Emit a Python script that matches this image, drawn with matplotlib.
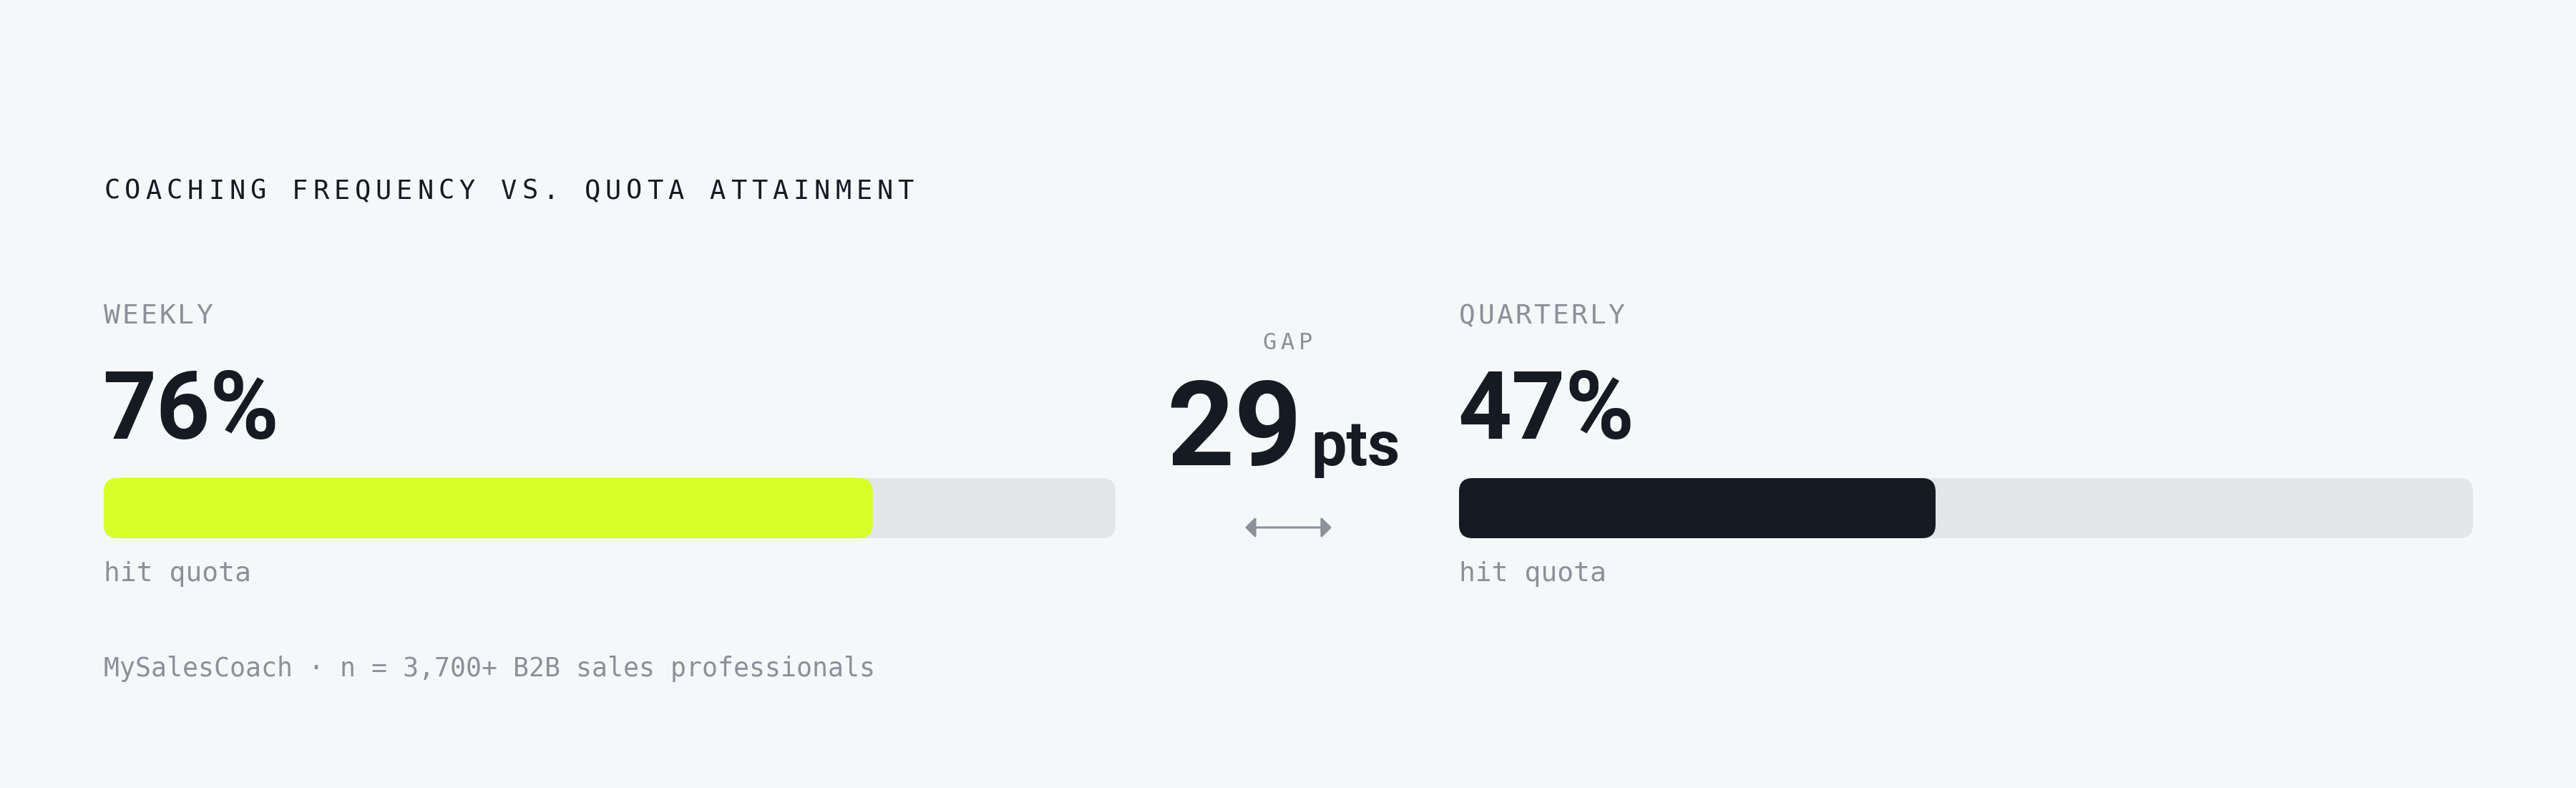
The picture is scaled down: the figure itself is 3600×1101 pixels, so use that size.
import matplotlib
matplotlib.use("Agg")
import matplotlib.pyplot as plt
from matplotlib.patches import FancyBboxPatch, FancyArrowPatch

# ---- data ----
title = "COACHING FREQUENCY VS. QUOTA ATTAINMENT"
groups = ["WEEKLY", "QUARTERLY"]
values = [76, 47]
value_labels = ["76%", "47%"]
sublabel = "hit quota"
gap_label = "GAP"
gap_value = values[0] - values[1]
gap_unit = "pts"
footer = "MySalesCoach · n = 3,700+ B2B sales professionals"

# ---- style ----
BG = "#f6f7f9"
DARK = "#151a23"
GRAY = "#8b9099"
TRACK = "#e4e5e8"
FILLS = ["#d9ff29", "#151a23"]
MONO = "DejaVu Sans Mono"
BOLD = "Roboto"

W, H = 3600, 1101
DPI = 72
fig = plt.figure(figsize=(W / DPI, H / DPI), dpi=DPI, facecolor=BG)
ax = fig.add_axes([0, 0, 1, 1])
ax.set_xlim(0, W)
ax.set_ylim(H, 0)
ax.axis("off")
ax.set_facecolor(BG)


def tracked(x0, y, s, size, step, color, **kw):
    adv = 0.602 * size
    for i, ch in enumerate(s):
        ax.text(x0 + adv / 2 + i * step, y, ch, fontsize=size, family=MONO,
                color=color, ha="center", va="baseline", **kw)


# title
tracked(145, 278, title, 37, 29.2, DARK)

# columns
col_x = [145, 2039]
track_w = [1414, 1417]
bar_top, bar_h = 668, 84
radius = 19
label_steps = [25.8, 26.1]

for i in range(2):
    x0 = col_x[i]
    tracked(x0, 452, groups[i], 38, label_steps[i], GRAY)
    ax.text(x0 - 2, 613, value_labels[i], fontsize=131, family=BOLD,
            fontweight="bold", color=DARK, ha="left", va="baseline")
    ax.text(x0, 812, sublabel, fontsize=38, family=MONO, color=GRAY,
            ha="left", va="baseline")

    bax = fig.add_axes([x0 / W, 1 - (bar_top + bar_h) / H, track_w[i] / W, bar_h / H])
    bax.set_xlim(0, 100)
    bax.set_ylim(0, 1)
    bax.axis("off")
    xpp = 100 / track_w[i]
    ypp = 1 / bar_h
    asp = ypp / xpp
    rs = radius * xpp
    bax.add_patch(FancyBboxPatch((0, 0), 100, 1,
                                 boxstyle=f"round,pad=0,rounding_size={rs}",
                                 mutation_aspect=asp, fc=TRACK, ec="none"))
    bax.add_patch(FancyBboxPatch((0, 0), values[i], 1,
                                 boxstyle=f"round,pad=0,rounding_size={rs}",
                                 mutation_aspect=asp, fc=FILLS[i], ec="none"))

# gap block
tracked(1764, 488, gap_label, 32, 25.5, GRAY)
ax.text(1820, 650, f"{gap_value}", fontsize=165, family=BOLD, fontweight="bold",
        color=DARK, ha="right", va="baseline")
ax.text(1832, 650, gap_unit, fontsize=88, family=BOLD, fontweight="bold",
        color=DARK, ha="left", va="baseline")
arrow = FancyArrowPatch((1740, 737), (1861, 737),
                        arrowstyle="<|-|>,head_length=12,head_width=12",
                        mutation_scale=1, lw=3, color=GRAY,
                        shrinkA=0, shrinkB=0)
ax.add_patch(arrow)

# footer
ax.text(145, 945, footer, fontsize=36.5, family=MONO, color=GRAY,
        ha="left", va="baseline")

fig.savefig("out.png", dpi=DPI, facecolor=BG)
